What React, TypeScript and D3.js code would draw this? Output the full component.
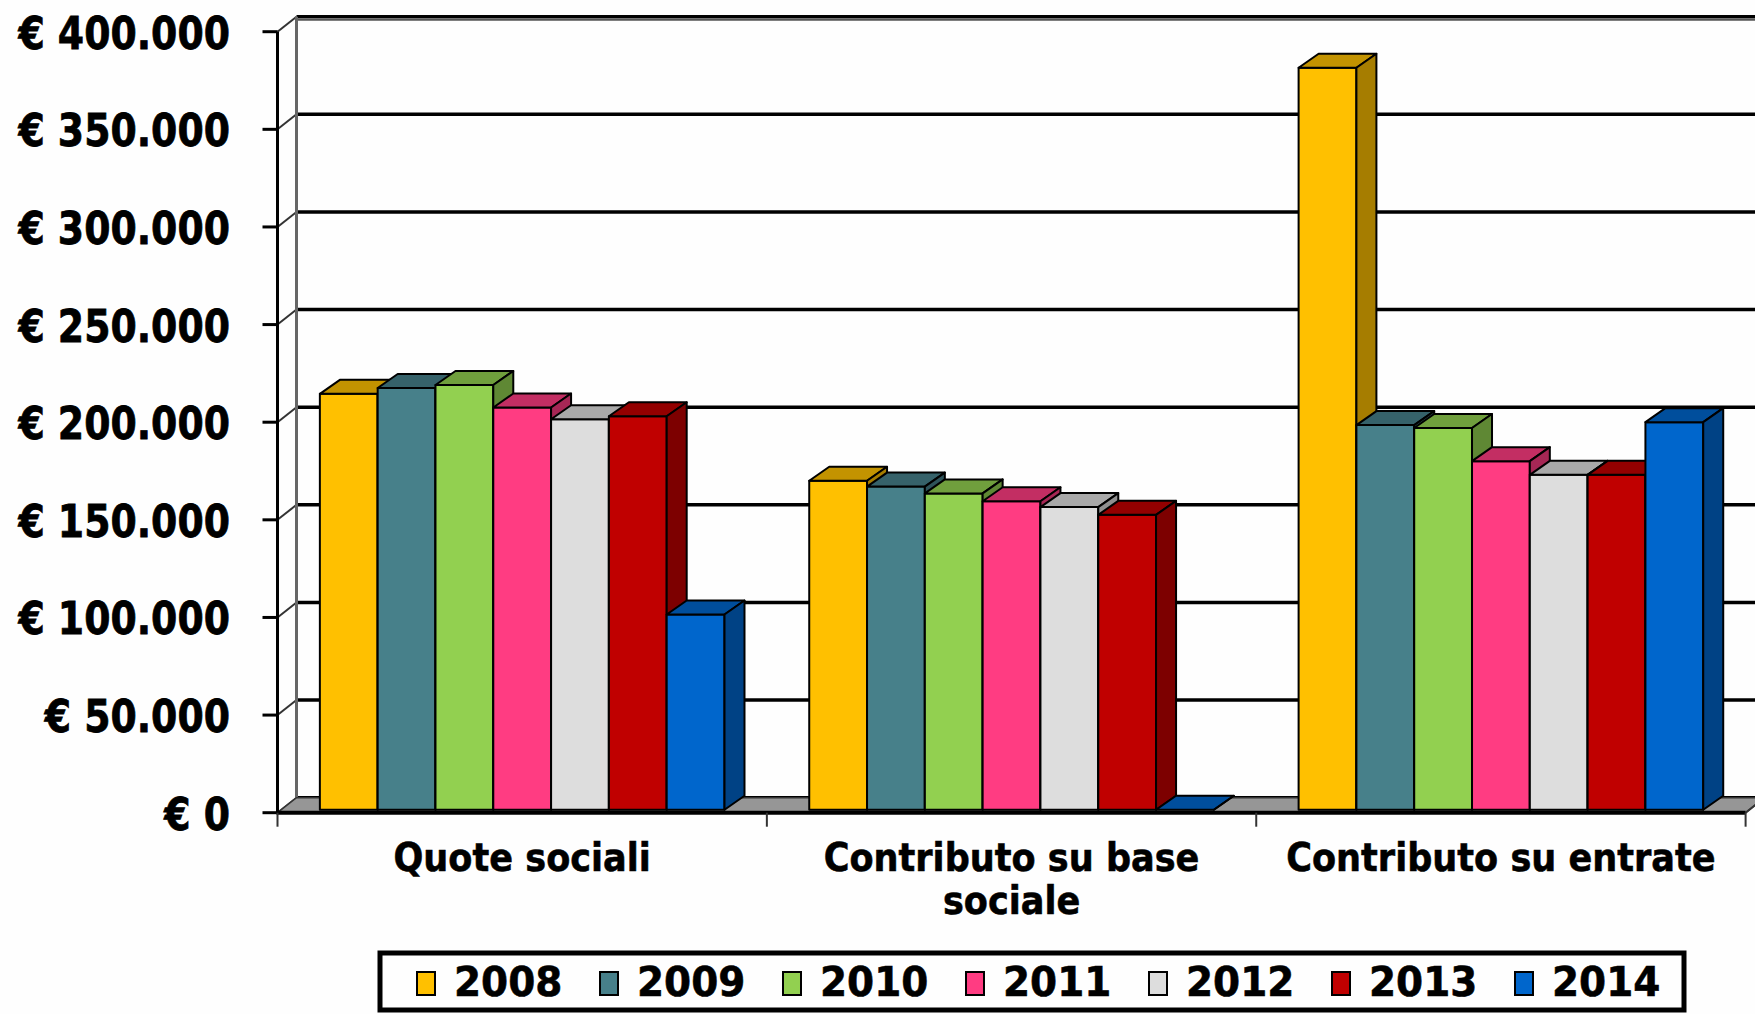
import * as d3 from 'd3';
import React from 'react';

const categories = ['Quote sociali', 'Contributo su base sociale', 'Contributo su entrate'];
const years = ['2008', '2009', '2010', '2011', '2012', '2013', '2014'];
const yearColors = ['#FFC000', '#47808A', '#92D050', '#FF3C82', '#DDDDDD', '#C00000', '#0066CC'];

// values per category, one per year (euro)
const quoteSociali = [213000, 216000, 217500, 206000, 200000, 201500, 100000];
const contributoBase = [168500, 165500, 162000, 158000, 155000, 151000, 0];
const contributoEntrate = [380000, 197000, 195500, 178500, 171500, 171500, 198500];
const valuesByCategory = [quoteSociali, contributoBase, contributoEntrate];

const yTicks = [0, 50000, 100000, 150000, 200000, 250000, 300000, 350000, 400000];

export default function App() {
  const svgRef = React.useRef<SVGSVGElement>(null);
  const w = 1755;
  const h = 1014;

  React.useEffect(() => {
    if (svgRef.current == null) {
      return;
    }
    const svg = d3.select(svgRef.current);
    svg.selectAll('*').remove();

    const font = '"DejaVu Sans", Verdana, sans-serif';
    const depth = [19, -15];
    const barShift = [0, -3];
    const barDepth = [20, -14];

    const yScale = d3.scaleLinear().domain([0, 400000]).range([812.7, 31.7]);
    const x0 = d3.scaleBand().domain(categories).range([277.5, 1745.6]);
    const x1 = d3
      .scaleBand()
      .domain(years)
      .range([0, x0.bandwidth()])
      .paddingInner(0)
      .paddingOuter(0.733);

    const locale = d3.formatLocale({
      decimal: ',',
      thousands: '.',
      grouping: [3],
      currency: ['€ ', ''],
    });
    const fmt = locale.format('$,.0f');

    svg.append('rect').attr('width', w).attr('height', h).attr('fill', '#FEFEFE');

    const axisX = x0.range()[0];
    const axisRight = x0.range()[1];
    const y0 = yScale(0);

    // back wall grid + side wall diagonals
    yTicks.forEach((t) => {
      const y = yScale(t);
      svg
        .append('line')
        .attr('x1', axisX + depth[0])
        .attr('x2', w + 10)
        .attr('y1', y + depth[1])
        .attr('y2', y + depth[1])
        .attr('stroke', '#000')
        .attr('stroke-width', 3.5);
      svg
        .append('line')
        .attr('x1', axisX)
        .attr('y1', y)
        .attr('x2', axisX + depth[0])
        .attr('y2', y + depth[1])
        .attr('stroke', '#333')
        .attr('stroke-width', 2);
    });
    svg
      .append('line')
      .attr('x1', w)
      .attr('x2', axisX + depth[0])
      .attr('y1', yScale(400000) + depth[1] + 3)
      .attr('y2', yScale(400000) + depth[1] + 3)
      .attr('stroke', '#555')
      .attr('stroke-width', 2);
    svg
      .append('line')
      .attr('x1', axisX + depth[0])
      .attr('x2', axisX + depth[0])
      .attr('y1', yScale(400000) + depth[1])
      .attr('y2', y0 + depth[1])
      .attr('stroke', '#666')
      .attr('stroke-width', 3);

    // floor
    svg
      .append('polygon')
      .attr(
        'points',
        [
          [axisX, y0],
          [axisRight, y0],
          [axisRight + depth[0], y0 + depth[1]],
          [axisX + depth[0], y0 + depth[1]],
        ]
          .map((p) => p.join(','))
          .join(' ')
      )
      .attr('fill', '#969696')
      .attr('stroke', '#333')
      .attr('stroke-width', 1.5);

    // bars
    categories.forEach((cat, ci) => {
      years.forEach((yr, yi) => {
        const v = valuesByCategory[ci][yi];
        const x = (x0(cat) ?? 0) + (x1(yr) ?? 0) + barShift[0];
        const bw = x1.bandwidth();
        const yTop = yScale(v) + barShift[1];
        const yBase = y0 + barShift[1];
        const base = d3.rgb(yearColors[yi]);
        const g = svg
          .append('g')
          .attr('stroke', '#000')
          .attr('stroke-width', 2)
          .attr('stroke-linejoin', 'round');
        g.append('rect')
          .attr('x', x)
          .attr('y', yTop)
          .attr('width', bw)
          .attr('height', yBase - yTop)
          .attr('fill', base.formatHex());
        g.append('polygon')
          .attr(
            'points',
            [
              [x, yTop],
              [x + barDepth[0], yTop + barDepth[1]],
              [x + bw + barDepth[0], yTop + barDepth[1]],
              [x + bw, yTop],
            ]
              .map((p) => p.join(','))
              .join(' ')
          )
          .attr('fill', base.darker(0.75).formatHex());
        g.append('polygon')
          .attr(
            'points',
            [
              [x + bw, yTop],
              [x + bw + barDepth[0], yTop + barDepth[1]],
              [x + bw + barDepth[0], yBase + barDepth[1]],
              [x + bw, yBase],
            ]
              .map((p) => p.join(','))
              .join(' ')
          )
          .attr('fill', base.darker(1.2).formatHex());
      });
    });

    // front value axis
    svg
      .append('line')
      .attr('x1', axisX)
      .attr('x2', axisX)
      .attr('y1', yScale(400000))
      .attr('y2', y0)
      .attr('stroke', '#000')
      .attr('stroke-width', 3);
    yTicks.forEach((t) => {
      const y = yScale(t);
      svg
        .append('line')
        .attr('x1', axisX - 15)
        .attr('x2', axisX)
        .attr('y1', y)
        .attr('y2', y)
        .attr('stroke', '#000')
        .attr('stroke-width', 3);
      svg
        .append('g')
        .attr('transform', `translate(230, ${y + 17})`)
        .append('text')
        .attr('transform', 'scale(0.84,1)')
        .attr('text-anchor', 'end')
        .style('font-family', font)
        .style('font-weight', 'bold')
        .style('font-size', '45px')
        .attr('fill', '#000')
        .attr('stroke', '#000')
        .attr('stroke-width', 0.8)
        .text(fmt(t));
    });

    // category axis
    svg
      .append('line')
      .attr('x1', axisX - 1)
      .attr('x2', axisRight)
      .attr('y1', y0)
      .attr('y2', y0)
      .attr('stroke', '#000')
      .attr('stroke-width', 4);
    svg
      .append('line')
      .attr('x1', axisRight)
      .attr('y1', y0)
      .attr('x2', axisRight + depth[0])
      .attr('y2', y0 + depth[1])
      .attr('stroke', '#333')
      .attr('stroke-width', 2);
    const bounds = categories.map((c) => x0(c) ?? 0).concat([axisRight]);
    bounds.forEach((bx) => {
      svg
        .append('line')
        .attr('x1', bx)
        .attr('x2', bx)
        .attr('y1', y0)
        .attr('y2', y0 + 14)
        .attr('stroke', '#333')
        .attr('stroke-width', 2);
    });

    categories.forEach((cat) => {
      const cx = (x0(cat) ?? 0) + x0.bandwidth() / 2;
      // wrap long labels the way the original did
      const words = cat.split(' ');
      const lines: string[] = [];
      let cur = '';
      words.forEach((wd) => {
        const next = cur ? cur + ' ' + wd : wd;
        if (next.length > 22 && cur) {
          lines.push(cur);
          cur = wd;
        } else {
          cur = next;
        }
      });
      lines.push(cur);
      lines.forEach((ln, li) => {
        svg
          .append('g')
          .attr('transform', `translate(${cx}, ${871 + li * 43})`)
          .append('text')
          .attr('transform', 'scale(0.9,1)')
          .attr('text-anchor', 'middle')
          .style('font-family', font)
          .style('font-weight', 'bold')
          .style('font-size', '39px')
          .attr('fill', '#000')
          .attr('stroke', '#000')
          .attr('stroke-width', 0.6)
          .text(ln);
      });
    });

    // legend
    svg
      .append('rect')
      .attr('x', 380)
      .attr('y', 953)
      .attr('width', 1304)
      .attr('height', 57)
      .attr('fill', '#FEFEFE')
      .attr('stroke', '#000')
      .attr('stroke-width', 5);
    years.forEach((yr, i) => {
      const lx = 417 + i * 183;
      svg
        .append('rect')
        .attr('x', lx)
        .attr('y', 972)
        .attr('width', 18)
        .attr('height', 23)
        .attr('fill', yearColors[i])
        .attr('stroke', '#000')
        .attr('stroke-width', 2);
      svg
        .append('g')
        .attr('transform', `translate(${lx + 37}, 996)`)
        .append('text')
        .attr('transform', 'scale(0.95,1)')
        .style('font-family', font)
        .style('font-weight', 'bold')
        .style('font-size', '41px')
        .attr('fill', '#000')
        .attr('stroke', '#000')
        .attr('stroke-width', 0.6)
        .text(yr);
    });
  }, []);

  return (
    <svg
      ref={svgRef}
      width={w}
      height={h}
      style={{ position: 'absolute', left: 0, top: 0, display: 'block' }}
    ></svg>
  );
}
